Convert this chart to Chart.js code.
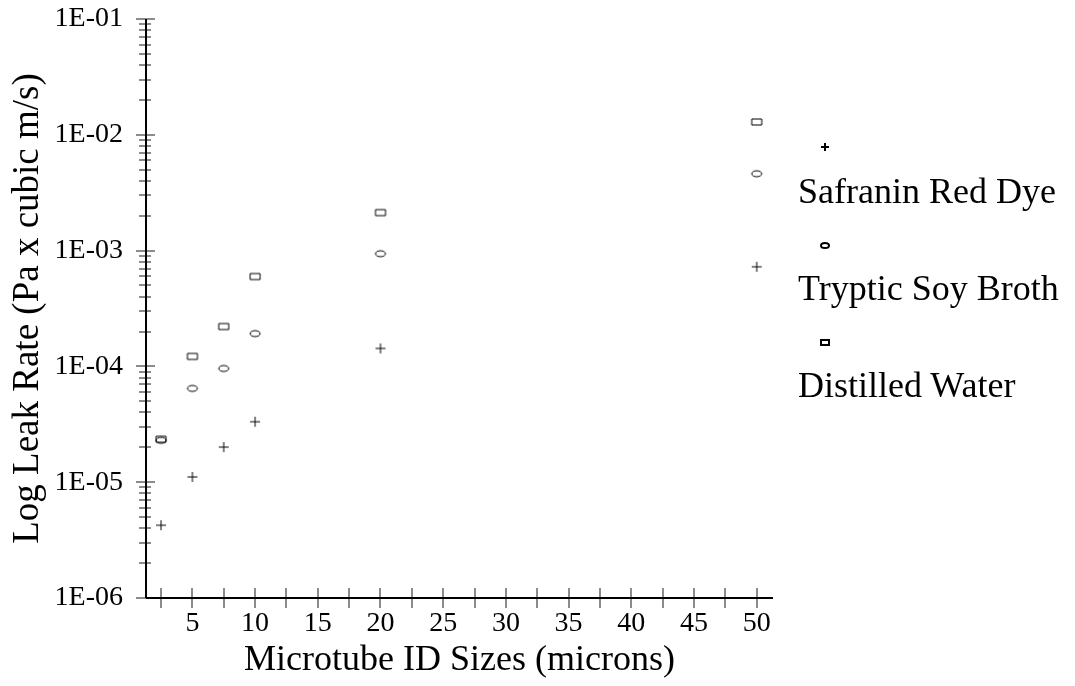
<!DOCTYPE html>
<html>
<head>
<meta charset="utf-8">
<style>
  body { margin: 0; background: #fff; }
  #wrap { position: relative; width: 1075px; height: 686px; }
  #legend { position: absolute; left: 0; top: 0; }
  .lg-text { position: absolute; left: 798px; font: 36px "Liberation Serif", "Times New Roman", serif; line-height: 36px; white-space: nowrap; color: #000; }
  .lg-mark { position: absolute; }
</style>
</head>
<body>
<div id="wrap">
  <canvas id="leakChart" width="1075" height="686"></canvas>
  <div id="legend"></div>
</div>
<script src="https://cdn.jsdelivr.net/npm/chart.js"></script>
<script>
// microtube inner diameters (microns)
const sizes = [2.5, 5, 7.5, 10, 20, 50];

// leak rates (Pa x cubic m/s)
const safraninRed = [4.25e-6, 1.11e-5, 2.01e-5, 3.33e-5, 1.43e-4, 7.25e-4];
const trypticSoy = [2.30e-5, 6.46e-5, 9.6e-5, 1.92e-4, 9.4e-4, 4.61e-3];
const distilledWater = [2.35e-5, 1.22e-4, 2.21e-4, 5.97e-4, 2.13e-3, 1.29e-2];

const seriesNames = ['Safranin Red Dye', 'Tryptic Soy Broth', 'Distilled Water'];

// axis ticks
const xTickValues = [2.5, 5, 7.5, 10, 12.5, 15, 17.5, 20, 22.5, 25, 27.5, 30, 32.5, 35, 37.5, 40, 42.5, 45, 47.5, 50];
const xTickLabels = ['', '5', '', '10', '', '15', '', '20', '', '25', '', '30', '', '35', '', '40', '', '45', '', '50'];
const yDecades = [-6, -5, -4, -3, -2, -1];
const yTickLabels = ['1E-06', '1E-05', '1E-04', '1E-03', '1E-02', '1E-01'];

const serif = '"Liberation Serif", "Times New Roman", serif';

// little marker images (ellipse / box / plus)
function makeMarker(kind, w, h, lw) {
  const c = document.createElement('canvas');
  c.width = w + 4; c.height = h + 4;
  const g = c.getContext('2d');
  g.strokeStyle = '#000';
  g.lineWidth = lw;
  const cx = c.width / 2, cy = c.height / 2;
  g.beginPath();
  if (kind === 'ellipse') {
    g.ellipse(cx, cy, w / 2, h / 2, 0, 0, Math.PI * 2);
  } else if (kind === 'box') {
    g.rect(cx - w / 2, cy - h / 2, w, h);
  } else {
    g.moveTo(cx - w / 2, cy); g.lineTo(cx + w / 2, cy);
    g.moveTo(cx, cy - h / 2); g.lineTo(cx, cy + h / 2);
  }
  g.stroke();
  return c;
}

const plusMark = makeMarker('plus', 10, 10, 1);
const ellipseMark = makeMarker('ellipse', 10, 6, 1);
const boxMark = makeMarker('box', 10, 6, 1);

function toPoints(ys) {
  return sizes.map((x, i) => ({ x: x, y: ys[i] }));
}

// gray tick marks that cross the axis lines
const crossTicks = {
  id: 'crossTicks',
  afterDraw(chart) {
    const ctx = chart.ctx;
    const xs = chart.scales.x, ys = chart.scales.y;
    const area = chart.chartArea;
    ctx.save();
    ctx.strokeStyle = '#8c8c8c';
    ctx.lineWidth = 2;
    ctx.beginPath();
    xs.ticks.forEach(t => {
      const px = Math.round(xs.getPixelForValue(t.value));
      ctx.moveTo(px, area.bottom - 10);
      ctx.lineTo(px, area.bottom + 10);
    });
    ys.ticks.forEach(t => {
      const py = Math.round(ys.getPixelForValue(t.value));
      const major = Math.abs(Math.log10(t.value) - Math.round(Math.log10(t.value))) < 1e-6;
      ctx.moveTo(area.left - (major ? 10 : 7), py);
      ctx.lineTo(area.left + (major ? 9 : 5), py);
    });
    ctx.stroke();
    // redraw the black axes over the ticks
    ctx.strokeStyle = '#000';
    ctx.lineWidth = 2;
    ctx.beginPath();
    ctx.moveTo(area.left, area.top);
    ctx.lineTo(area.left, area.bottom);
    ctx.moveTo(area.left, area.bottom);
    ctx.lineTo(area.right, area.bottom);
    ctx.stroke();
    ctx.restore();
  }
};

new Chart(document.getElementById('leakChart'), {
  type: 'scatter',
  data: {
    datasets: [
      { label: seriesNames[0], data: toPoints(safraninRed), pointStyle: plusMark },
      { label: seriesNames[1], data: toPoints(trypticSoy), pointStyle: ellipseMark },
      { label: seriesNames[2], data: toPoints(distilledWater), pointStyle: boxMark }
    ]
  },
  options: {
    responsive: false,
    animation: false,
    layout: { padding: { left: 0, top: 19, right: 302, bottom: 0 } },
    plugins: { legend: { display: false }, tooltip: { enabled: false } },
    scales: {
      x: {
        type: 'linear',
        min: 1.3,
        max: 51.3,
        grid: { display: false },
        border: { display: false },
        afterBuildTicks: s => { s.ticks = xTickValues.map(v => ({ value: v })); },
        afterFit: s => { s.height = 88; s.paddingLeft = 0; s.paddingRight = 0; },
        ticks: {
          autoSkip: false,
          maxRotation: 0,
          padding: 1,
          color: '#000',
          font: { family: serif, size: 28 },
          callback: (v, i) => xTickLabels[i]
        },
        title: {
          display: true,
          text: 'Microtube ID Sizes (microns)',
          color: '#000',
          font: { family: serif, size: 36 },
          padding: { top: 0, bottom: 4 }
        }
      },
      y: {
        type: 'logarithmic',
        min: 1e-6,
        max: 1e-1,
        grid: { display: false },
        border: { display: false },
        afterBuildTicks: s => {
          const t = [];
          yDecades.forEach(e => {
            for (let m = 1; m <= 9; m++) {
              const v = m * Math.pow(10, e);
              if (v <= 1e-1 * 1.0001) t.push({ value: v });
            }
          });
          s.ticks = t;
        },
        afterFit: s => { s.width = 146; s.paddingTop = 0; s.paddingBottom = 0; },
        ticks: {
          autoSkip: false,
          padding: 15,
          color: '#000',
          font: { family: serif, size: 28 },
          callback: v => {
            const i = yDecades.findIndex(e => Math.abs(v / Math.pow(10, e) - 1) < 1e-6);
            return i >= 0 ? yTickLabels[i] : '';
          }
        },
        title: {
          display: true,
          text: 'Log Leak Rate (Pa x cubic m/s)',
          color: '#000',
          font: { family: serif, size: 37 },
          padding: { top: 6, bottom: 0 }
        }
      }
    }
  },
  plugins: [crossTicks]
});

// legend: marker above its name
const legendBox = document.getElementById('legend');
const legendMarks = [makeMarker('plus', 8, 8, 2), makeMarker('ellipse', 8, 5, 2), makeMarker('box', 8, 5, 2)];
const markY = [147, 245, 342];
const textTop = [173, 270, 367];
seriesNames.forEach((name, i) => {
  const m = legendMarks[i];
  m.className = 'lg-mark';
  m.style.left = (825 - m.width / 2) + 'px';
  m.style.top = (markY[i] - m.height / 2) + 'px';
  legendBox.appendChild(m);
  const t = document.createElement('div');
  t.className = 'lg-text';
  t.style.top = textTop[i] + 'px';
  t.textContent = name;
  legendBox.appendChild(t);
});
</script>
</body>
</html>
